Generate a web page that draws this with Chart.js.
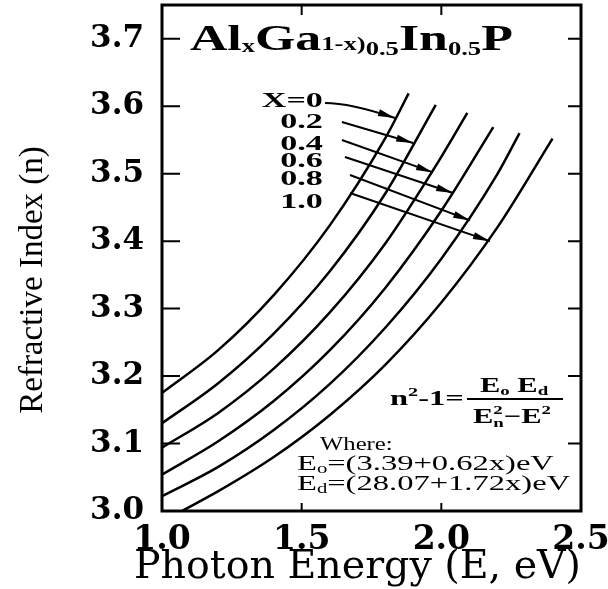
<!DOCTYPE html>
<html>
<head>
<meta charset="utf-8">
<script src="https://cdn.jsdelivr.net/npm/chart.js@4/dist/chart.umd.min.js"></script>
<style>
html,body{margin:0;padding:0;background:#fff;}
#wrap{width:608px;height:589px;}
</style>
</head>
<body>
<div id="wrap"><canvas id="c" width="608" height="589"></canvas></div>
<script>
// ---- data ----
const compositions = ['X=0', '0.2', '0.4', '0.6', '0.8', '1.0'];

const energyX00 = [1.0, 1.2, 1.4, 1.6, 1.8, 1.883];
const indexX00  = [3.175, 3.238, 3.320, 3.423, 3.553, 3.619];

const energyX02 = [1.0, 1.2, 1.4, 1.6, 1.8, 1.98];
const indexX02  = [3.130, 3.189, 3.263, 3.355, 3.471, 3.602];

const energyX04 = [1.0, 1.2, 1.4, 1.6, 1.8, 2.0, 2.093];
const indexX04  = [3.094, 3.145, 3.211, 3.294, 3.397, 3.525, 3.590];

const energyX06 = [1.0, 1.2, 1.4, 1.6, 1.8, 2.0, 2.186];
const indexX06  = [3.054, 3.103, 3.163, 3.238, 3.331, 3.445, 3.569];

const energyX08 = [1.0, 1.2, 1.4, 1.6, 1.8, 2.0, 2.2, 2.28];
const indexX08  = [3.022, 3.065, 3.120, 3.188, 3.272, 3.374, 3.499, 3.560];

const energyX10 = [1.071, 1.2, 1.4, 1.6, 1.8, 2.0, 2.2, 2.398];
const indexX10  = [3.000, 3.029, 3.080, 3.142, 3.217, 3.309, 3.420, 3.552];

const xTickValues = [1.0, 1.5, 2.0, 2.5];
const yTickValues = [3.0, 3.1, 3.2, 3.3, 3.4, 3.5, 3.6, 3.7];

const xTitle = 'Photon Energy (E, eV)';
const yTitle = 'Refractive Index (n)';
const whereLabel = 'Where:';
const e0Text = '=(3.39+0.62x)eV';
const edText = '=(28.07+1.72x)eV';

// ---- annotation layout (in data units) ----
const layoutPos = {
  title: [1.100, 3.683],
  legendRight: 1.576,
  legendBase: [3.599, 3.568, 3.535, 3.510, 3.483, 3.449],
  arrows: [
    [[1.5835, 3.6047], [1.673, 3.6047], [1.834, 3.5825]],
    [[1.644, 3.5766], [1.899, 3.5455]],
    [[1.644, 3.5499], [1.970, 3.5019]],
    [[1.655, 3.5247], [2.042, 3.4713]],
    [[1.673, 3.4980], [2.103, 3.4307]],
    [[1.673, 3.4713], [2.174, 3.4000]]
  ],
  lhs: [1.8162, 3.1571],
  bar: [2.0919, 2.4356, 3.1660],
  num: [2.1384, 3.1764],
  den: [2.1134, 3.1304],
  where: [1.5656, 3.0904],
  e0: [1.4833, 3.0608],
  ed: [1.4833, 3.0311]
};

function pts(es, ns) { return es.map((e, i) => ({ x: e, y: ns[i] })); }

const series = [
  pts(energyX00, indexX00), pts(energyX02, indexX02), pts(energyX04, indexX04),
  pts(energyX06, indexX06), pts(energyX08, indexX08), pts(energyX10, indexX10)
];

function drawRuns(ctx, runs, x, y, sx) {
  let cx = x;
  runs.forEach(r => {
    const [t, f, dy, adv] = r;
    ctx.save();
    ctx.font = f;
    const w = ctx.measureText(t).width * sx;
    ctx.translate(cx, y + dy);
    ctx.scale(sx, 1);
    ctx.textAlign = 'left';
    ctx.textBaseline = 'alphabetic';
    ctx.fillStyle = '#000';
    ctx.fillText(t, 0, 0);
    ctx.restore();
    if (adv !== false) cx += w;
  });
  return cx - x;
}

const framePlugin = {
  id: 'frame',
  afterLayout(chart) {
    // shift axis-title anchor boxes to match the original placement
    const xs = chart.scales.x, ys = chart.scales.y;
    ys.bottom = ys.bottom + 44;
    xs.left = xs.left - 28;
  },
  afterDraw(chart) {
    const ctx = chart.ctx;
    const xs = chart.scales.x, ys = chart.scales.y;
    const { left, right, top, bottom } = chart.chartArea;
    const X = v => xs.getPixelForValue(v), Y = v => ys.getPixelForValue(v);
    ctx.save();
    ctx.strokeStyle = '#000';
    ctx.fillStyle = '#000';
    ctx.lineWidth = 3;
    ctx.strokeRect(left, top, right - left, bottom - top);
    ctx.lineWidth = 2;
    ctx.beginPath();
    yTickValues.forEach(v => {
      const y = Y(v);
      ctx.moveTo(left, y); ctx.lineTo(left + 18, y);
      ctx.moveTo(right, y); ctx.lineTo(right - 13, y);
    });
    xTickValues.slice(1, -1).forEach(v => {
      const x = X(v);
      ctx.moveTo(x, bottom); ctx.lineTo(x, bottom - 8);
      ctx.moveTo(x, top); ctx.lineTo(x, top + 10);
    });
    ctx.stroke();

    // title
    const BIG = 'bold 35px "Liberation Serif"', SUB = 'bold 18px "Liberation Serif"';
    drawRuns(ctx, [['Al', BIG, 0], ['x', SUB, 2], ['Ga', BIG, 0], ['1-x)', SUB, 0],
      ['0.5', SUB, 5], ['In', BIG, 0], ['0.5', SUB, 5], ['P', BIG, 0]],
      X(layoutPos.title[0]), Y(layoutPos.title[1]), 1.48);

    // legend labels
    compositions.forEach((lab, i) => {
      ctx.save();
      ctx.font = 'bold 22px "Liberation Serif"';
      ctx.translate(X(layoutPos.legendRight), Y(layoutPos.legendBase[i]));
      ctx.scale(1.55, 1);
      ctx.textAlign = 'right';
      ctx.textBaseline = 'alphabetic';
      ctx.fillText(lab, 0, 0);
      ctx.restore();
    });

    // arrows
    layoutPos.arrows.forEach(path => {
      const p = path.map(q => [X(q[0]), Y(q[1])]);
      ctx.lineWidth = 2;
      ctx.beginPath();
      ctx.moveTo(p[0][0], p[0][1]);
      if (p.length === 3) {
        ctx.quadraticCurveTo(p[1][0], p[1][1], p[2][0], p[2][1]);
      } else {
        ctx.lineTo(p[1][0], p[1][1]);
      }
      ctx.stroke();
      const a = p[p.length - 1], b = p[p.length - 2];
      const ang = Math.atan2(a[1] - b[1], a[0] - b[0]);
      const L = 17, W = 3.5;
      ctx.beginPath();
      ctx.moveTo(a[0], a[1]);
      ctx.lineTo(a[0] - L * Math.cos(ang) + W * Math.sin(ang), a[1] - L * Math.sin(ang) - W * Math.cos(ang));
      ctx.lineTo(a[0] - L * Math.cos(ang) - W * Math.sin(ang), a[1] - L * Math.sin(ang) + W * Math.cos(ang));
      ctx.closePath();
      ctx.fill();
    });

    // formula
    const F = 'bold 21px "Liberation Serif"', FS = 'bold 13px "Liberation Serif"';
    drawRuns(ctx, [['n', F, 0], ['2', FS, -9], ['-1=', F, 0]], X(layoutPos.lhs[0]), Y(layoutPos.lhs[1]), 1.55);
    ctx.lineWidth = 2;
    ctx.beginPath();
    ctx.moveTo(X(layoutPos.bar[0]), Y(layoutPos.bar[2]));
    ctx.lineTo(X(layoutPos.bar[1]), Y(layoutPos.bar[2]));
    ctx.stroke();
    drawRuns(ctx, [['E', F, 0], ['o', FS, 3], [' E', F, 0], ['d', FS, 3]], X(layoutPos.num[0]), Y(layoutPos.num[1]), 1.45);
    drawRuns(ctx, [['E', F, 0], ['2', FS, -9, false], ['n', FS, 4], ['\u2212E', F, 0], ['2', FS, -9]], X(layoutPos.den[0]), Y(layoutPos.den[1]), 1.45);

    const W1 = '22px "Liberation Serif"', WS = '14px "Liberation Serif"';
    drawRuns(ctx, [[whereLabel, '19px "Liberation Serif"', 0]], X(layoutPos.where[0]), Y(layoutPos.where[1]), 1.3);
    drawRuns(ctx, [['E', W1, 0], ['o', WS, 3], [e0Text, W1, 0]], X(layoutPos.e0[0]), Y(layoutPos.e0[1]), 1.48);
    drawRuns(ctx, [['E', W1, 0], ['d', WS, 3], [edText, W1, 0]], X(layoutPos.ed[0]), Y(layoutPos.ed[1]), 1.48);
    ctx.restore();
  }
};

new Chart(document.getElementById('c'), {
  type: 'line',
  data: {
    datasets: series.map((d, i) => ({
      label: compositions[i],
      data: d,
      borderColor: '#000',
      borderWidth: 2.5,
      pointRadius: 0,
      fill: false,
      cubicInterpolationMode: 'monotone'
    }))
  },
  options: {
    responsive: false,
    animation: false,
    devicePixelRatio: 1,
    layout: { padding: { top: 5, right: 27, left: 0, bottom: 0 } },
    plugins: { legend: { display: false }, tooltip: { enabled: false } },
    scales: {
      x: {
        type: 'linear', min: 1.0, max: 2.5,
        afterBuildTicks: s => { s.ticks = xTickValues.map(v => ({ value: v })); },
        afterFit: s => { s.height = 78; s.paddingLeft = 0; s.paddingRight = 0; },
        grid: { display: false }, border: { display: false },
        ticks: { color: '#000', padding: 2, autoSkip: false, maxRotation: 0,
          font: { family: 'DejaVu Serif', size: 33, weight: 'bold' },
          callback: v => Number(v).toFixed(1) },
        title: { display: true, text: xTitle, color: '#000',
          font: { family: 'DejaVu Serif', size: 40, lineHeight: 1 }, padding: { top: 0, bottom: 1 } }
      },
      y: {
        type: 'linear', min: 3.0, max: 3.75,
        afterBuildTicks: s => { s.ticks = yTickValues.map(v => ({ value: v })); },
        afterFit: s => { s.width = 162; s.paddingTop = 0; s.paddingBottom = 0; },
        grid: { display: false }, border: { display: false },
        ticks: { color: '#000', padding: 10, autoSkip: false,
          font: { family: 'DejaVu Serif', size: 31, weight: 'bold' },
          callback: v => Number(v).toFixed(1) },
        title: { display: true, text: yTitle, color: '#000',
          font: { family: 'Liberation Serif', size: 33, lineHeight: 1 }, padding: { top: 17, bottom: 0 } }
      }
    }
  },
  plugins: [framePlugin]
});
</script>
</body>
</html>
